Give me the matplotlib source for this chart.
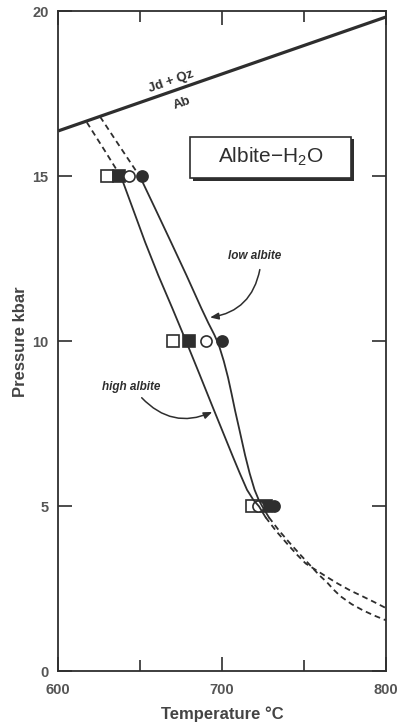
import numpy as np
import matplotlib
matplotlib.use("Agg")
import matplotlib.pyplot as plt
from matplotlib.patches import Rectangle
from matplotlib.ticker import MultipleLocator

plt.rcParams["font.family"] = ["Liberation Sans", "DejaVu Sans"]
plt.rcParams["mathtext.fontset"] = "custom"
plt.rcParams["mathtext.rm"] = "Liberation Sans"
plt.rcParams["mathtext.default"] = "regular"

INK = "#2e2e2e"
GREY = "#555555"

# ── data ──────────────────────────────────────────────────────────────────────
# Jd + Qz = Ab reaction
reac_T = [600, 800]
reac_P = [16.37, 19.82]

# high albite solidus
high_dash_top_T = [617.4, 628.0, 638.4]
high_dash_top_P = [16.63, 15.80, 14.97]
high_T = [638.4, 645.6, 653.0, 661.0, 669.6, 678.0, 686.2, 694.3, 699.8, 706.6,
          710.8, 715.2, 719.0, 722.5, 726.5]
high_P = [14.97, 14.00, 13.00, 12.00, 11.00, 10.00, 9.00, 8.00, 7.33, 6.50,
          6.00, 5.50, 5.20, 5.00, 4.67]
high_dash_bot_T = [726.5, 733.0, 740.0, 746.0, 751.0, 757.0, 764.0, 771.0,
                   778.3, 785.5, 792.5, 800.0]
high_dash_bot_P = [4.67, 4.25, 3.85, 3.52, 3.27, 3.08, 2.86, 2.65,
                   2.45, 2.28, 2.11, 1.92]

# low albite solidus
low_dash_top_T = [625.5, 637.5, 650.0]
low_dash_top_P = [16.80, 15.90, 14.97]
low_T = [650.0, 659.3, 668.8, 678.2, 687.3, 691.6, 695.2, 697.9, 701.0, 703.6,
         705.8, 707.9, 710.5, 714.0, 716.8, 719.8, 722.3, 724.5, 728.5]
low_P = [14.97, 14.00, 13.00, 12.00, 11.00, 10.55, 10.20, 9.90, 9.40, 8.90,
         8.40, 7.90, 7.33, 6.55, 6.00, 5.50, 5.20, 5.00, 4.67]
low_dash_bot_T = [728.5, 735.0, 742.0, 748.0, 754.0, 759.0, 764.0, 768.0,
                  772.2, 779.0, 786.0, 793.0, 800.0]
low_dash_bot_P = [4.67, 4.25, 3.85, 3.52, 3.20, 2.93, 2.70, 2.48,
                  2.28, 2.04, 1.85, 1.69, 1.55]

# experimental brackets at 15, 10, 5 kbar
open_sq_T = [630.0, 670.0, 718.5]
filled_sq_T = [637.0, 680.0, 726.5]
open_ci_T = [643.0, 690.0, 722.0]
filled_ci_T = [651.0, 700.0, 731.5]
exp_P = [15.0, 10.0, 5.0]

x_ticks = [600, 700, 800]
y_ticks = [0, 5, 10, 15, 20]

# ── figure ────────────────────────────────────────────────────────────────────
fig = plt.figure(figsize=(3.99, 7.25), dpi=100)
ax = fig.add_axes([0.1461, 0.0738, 0.8213, 0.9110])
ax.set_xlim(600, 800)
ax.set_ylim(0, 20)

for s in ax.spines.values():
    s.set_color(INK)
    s.set_linewidth(1.3)

ax.set_xticks(x_ticks)
ax.set_yticks(y_ticks)
ax.xaxis.set_minor_locator(MultipleLocator(50))
ax.tick_params(which="both", direction="in", top=True, right=True,
               color=INK, width=1.2, labelcolor=GREY, labelsize=10.5)
ax.tick_params(which="major", length=10)
ax.tick_params(which="minor", length=8)
ax.tick_params(axis="x", pad=8)
ax.tick_params(axis="y", pad=7)
for lab in ax.get_xticklabels() + ax.get_yticklabels():
    lab.set_fontweight("bold")

ax.set_xlabel("Temperature °C", fontsize=12, fontweight="bold", color="#444444",
              labelpad=7)
ax.set_ylabel("Pressure kbar", fontsize=12, fontweight="bold", color="#444444",
              labelpad=3)

# reaction line
ax.plot(reac_T, reac_P, color=INK, lw=2.3, solid_capstyle="butt", zorder=4)
ax.text(669.2, 17.87, "Jd + Qz", rotation=19.3, rotation_mode="anchor",
        ha="center", va="center", fontsize=9.5, fontweight="bold", color=INK)
ax.text(675.3, 17.22, "Ab", rotation=19.3, rotation_mode="anchor",
        ha="center", va="center", fontsize=9.5, fontweight="bold", color=INK)

# solidus curves
dash = dict(color=INK, lw=1.3, ls=(0, (3.2, 2.2)), zorder=4)
solid = dict(color=INK, lw=1.3, zorder=4)
ax.plot(high_dash_top_T, high_dash_top_P, **dash)
ax.plot(high_T, high_P, **solid)
ax.plot(high_dash_bot_T, high_dash_bot_P, **dash)
ax.plot(low_dash_top_T, low_dash_top_P, **dash)
ax.plot(low_T, low_P, **solid)
ax.plot(low_dash_bot_T, low_dash_bot_P, **dash)

# experiments
mk = dict(ls="none", ms=8, mew=1.2, mec=INK, zorder=3)
ax.plot(open_sq_T, exp_P, marker="s", mfc="white", **mk)
ax.plot(filled_sq_T, exp_P, marker="s", mfc=INK, **mk)
ax.plot(open_ci_T, exp_P, marker="o", mfc="white", **mk)
ax.plot(filled_ci_T, exp_P, marker="o", mfc=INK, **mk)

# system label box with drop shadow
ax.add_patch(Rectangle((682.2, 14.86), 98.2, 1.25, facecolor=INK,
                       edgecolor="none", zorder=5))
ax.add_patch(Rectangle((680.4, 14.95), 98.2, 1.25, facecolor="white",
                       edgecolor=INK, lw=1.2, zorder=6))
ax.text(729.5, 15.57, "Albite−H$_2$O", ha="center", va="center",
        fontsize=15, color=INK, zorder=7)

# curve labels + arrows
ax.text(720.1, 12.59, "low albite", ha="center", va="center", fontsize=8.5,
        fontweight="bold", style="italic", color=INK)
ax.annotate("", xy=(692.6, 10.72), xytext=(723.0, 12.17),
            arrowprops=dict(arrowstyle="-|>,head_length=0.5,head_width=0.2",
                            connectionstyle="arc3,rad=-0.35", color=INK, lw=1.1,
                            shrinkA=0, shrinkB=0))
ax.text(644.4, 8.61, "high albite", ha="center", va="center", fontsize=8.5,
        fontweight="bold", style="italic", color=INK)
ax.annotate("", xy=(694.0, 7.86), xytext=(650.9, 8.29),
            arrowprops=dict(arrowstyle="-|>,head_length=0.5,head_width=0.2",
                            connectionstyle="arc3,rad=0.35", color=INK, lw=1.1,
                            shrinkA=0, shrinkB=0))

fig.savefig("out.png", dpi=100)
plt.close(fig)
